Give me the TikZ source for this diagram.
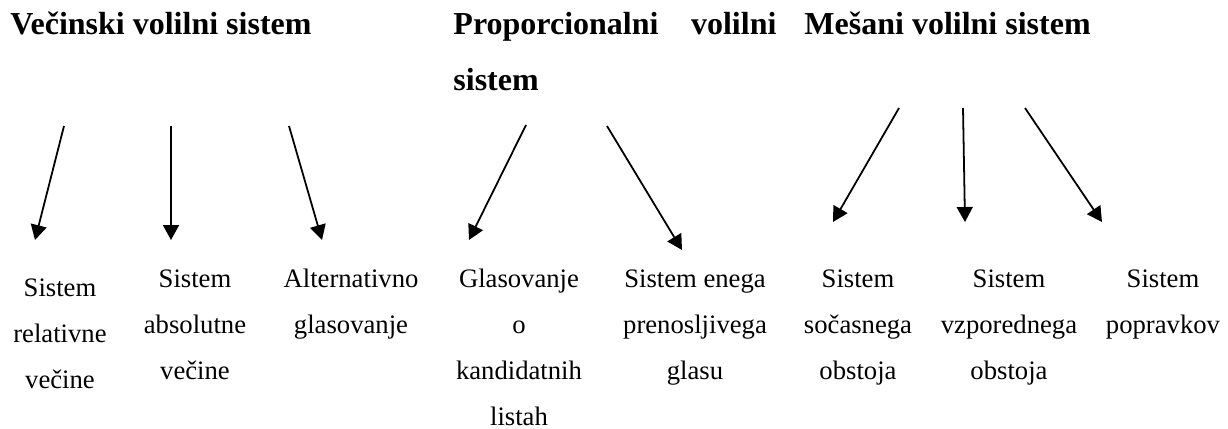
\documentclass[tikz,border=0pt]{standalone}
\usepackage{fontspec}
\setmainfont{Liberation Serif}
\usetikzlibrary{arrows.meta}
\tikzset{
  head/.style={inner sep=0pt, font=\fontsize{14.4}{25.2}\selectfont\bfseries, align=left},
  item/.style={inner sep=0pt, font=\fontsize{12}{20.7}\selectfont, align=center, anchor=base},
  conn/.style={line width=0.8pt, -{Triangle[length=6.75pt,width=7.2pt]}}
}
\begin{document}
\begin{tikzpicture}[x=0.45pt,y=-0.45pt]
\useasboundingbox (0,0) rectangle (1228,428);
% headings (base anchor = baseline of the last line)
\node[head, anchor=base west] (h1) at (10,34) {Večinski volilni sistem};
\node[head, anchor=base west] (h2) at (453,90) {\hbox to 145.35pt{Proporcionalni\hfill volilni}\\sistem};
\node[head, anchor=base west] (h3) at (804,34) {Mešani volilni sistem};
% items (base anchor = baseline of the last line)
\node[item] (a1) at (60,388) {Sistem\\relativne\\večine};
\node[item] (a2) at (195,379) {Sistem\\absolutne\\večine};
\node[item] (a3) at (351,333) {Alternativno\\glasovanje};
\node[item] (b1) at (519,425) {Glasovanje\\o\\kandidatnih\\listah};
\node[item] (b2) at (695,379) {Sistem enega\\prenosljivega\\glasu};
\node[item] (c1) at (858,379) {Sistem\\sočasnega\\obstoja};
\node[item] (c2) at (1009,379) {Sistem\\vzporednega\\obstoja};
\node[item] (c3) at (1163,333) {Sistem\\popravkov};
% arrow end points
\coordinate (s1) at (64,126);   \coordinate (t1) at (35,240);
\coordinate (s2) at (171,126);  \coordinate (t2) at (171,240);
\coordinate (s3) at (289,126);  \coordinate (t3) at (322,240);
\coordinate (s4) at (526,125);  \coordinate (t4) at (469,240);
\coordinate (s5) at (607,126);  \coordinate (t5) at (682,250);
\coordinate (s6) at (899,108);  \coordinate (t6) at (833,222);
\coordinate (s7) at (963,108);  \coordinate (t7) at (965,222);
\coordinate (s8) at (1025,108); \coordinate (t8) at (1102,222);
\foreach \i in {1,...,8} { \draw[conn] (s\i) -- (t\i); }
\end{tikzpicture}
\end{document}
